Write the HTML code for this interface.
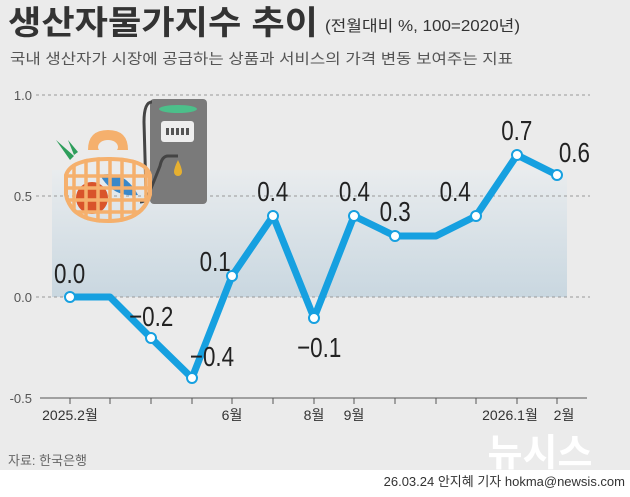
<!DOCTYPE html><html><head><meta charset="utf-8"><style>body{margin:0}svg text{font-family:"Liberation Sans","Noto Sans CJK KR",sans-serif}</style></head><body>
<svg width="630" height="492" viewBox="0 0 630 492" xmlns="http://www.w3.org/2000/svg">
<defs><linearGradient id="g" x1="0" y1="0" x2="0" y2="1"><stop offset="0" stop-color="#e9ecee"/><stop offset="1" stop-color="#c9d7e0"/></linearGradient>
<clipPath id="bc"><path d="M64 175 q5-18 44-18 q40 0 44 18 l0 20 q-8 28 -44 28 q-38 0 -44 -28z"/></clipPath></defs>
<rect width="630" height="492" fill="#ebebeb"/>
<rect x="0" y="470" width="630" height="22" fill="#fff"/>
<text x="8" y="34" font-size="33" font-weight="bold" fill="#333" textLength="310" lengthAdjust="spacingAndGlyphs">생산자물가지수 추이</text>
<text x="325" y="31" font-size="15.5" fill="#333" textLength="195" lengthAdjust="spacingAndGlyphs">(전월대비 %, 100=2020년)</text>
<text x="10" y="64" font-size="14.5" fill="#555" textLength="503" lengthAdjust="spacingAndGlyphs">국내 생산자가 시장에 공급하는 상품과 서비스의 가격 변동 보여주는 지표</text>
<rect x="52" y="170" width="515" height="127" fill="url(#g)"/>
<g stroke="#999" stroke-dasharray="3,3" stroke-width="1">
<line x1="36" y1="95" x2="590" y2="95"/><line x1="36" y1="196" x2="590" y2="196"/><line x1="36" y1="297" x2="590" y2="297"/></g>
<g font-size="13" fill="#555" text-anchor="end"><text x="32" y="100">1.0</text><text x="32" y="201">0.5</text><text x="32" y="302">0.0</text><text x="32" y="403">-0.5</text></g>
<line x1="40" y1="398" x2="587" y2="398" stroke="#555"/>
<g stroke="#555"><line x1="70" y1="398" x2="70" y2="404"/><line x1="110" y1="398" x2="110" y2="404"/><line x1="151" y1="398" x2="151" y2="404"/><line x1="192" y1="398" x2="192" y2="404"/><line x1="232" y1="398" x2="232" y2="404"/><line x1="273" y1="398" x2="273" y2="404"/><line x1="314" y1="398" x2="314" y2="404"/><line x1="354" y1="398" x2="354" y2="404"/><line x1="395" y1="398" x2="395" y2="404"/><line x1="436" y1="398" x2="436" y2="404"/><line x1="476" y1="398" x2="476" y2="404"/><line x1="517" y1="398" x2="517" y2="404"/><line x1="557" y1="398" x2="557" y2="404"/></g>
<g font-size="14" fill="#333" text-anchor="middle"><text x="70" y="420">2025.2월</text><text x="232" y="420">6월</text><text x="314" y="420">8월</text><text x="354" y="420">9월</text><text x="510" y="420">2026.1월</text><text x="564" y="420">2월</text></g>
<!-- pump -->
<rect x="150" y="99" width="57" height="105" rx="4" fill="#7a7a7a"/>
<ellipse cx="178" cy="109" rx="19" ry="4" fill="#4cbf8a"/>
<rect x="161" y="121" width="33" height="21" rx="3" fill="#eee"/>
<g fill="#555"><rect x="166" y="128" width="3" height="7"/><rect x="171" y="128" width="3" height="7"/><rect x="176" y="128" width="3" height="7"/><rect x="181" y="128" width="3" height="7"/><rect x="186" y="128" width="3" height="7"/></g>
<path d="M178 160 q4 8 4 12 a4 4 0 0 1 -8 0 q0-4 4-12z" fill="#e6b030"/>
<path d="M152 102 q-8 0 -8 20 l2 70 q2 10 -6 10 M178 156 h-10 q-6 0 -8 10 l-12 30" fill="none" stroke="#444" stroke-width="3"/>
<!-- basket -->
<path d="M56 140 l14 20 l4 -4z" fill="#2e9e5b"/><path d="M68 140 l6 15 l4-3z" fill="#2e9e5b"/>
<path d="M88 150 q0-20 20-20 q20 0 20 20 z" fill="#f5b06d"/>
<ellipse cx="108" cy="147" rx="10" ry="7" fill="#ebebeb"/>
<circle cx="92" cy="198" r="16" fill="#d9542b"/>
<path d="M100 175 q25 -5 38 20 q-25 3-38-20z" fill="#3a88c8"/>
<g clip-path="url(#bc)" stroke="#f5b06d" stroke-width="3.5">
<path d="M64 175 q5-18 44-18 q40 0 44 18 l0 20 q-8 28 -44 28 q-38 0 -44 -28z" fill="none" stroke-width="8"/>
<line x1="74" y1="150" x2="74" y2="230"/><line x1="86" y1="150" x2="86" y2="230"/><line x1="98" y1="150" x2="98" y2="230"/><line x1="110" y1="150" x2="110" y2="230"/><line x1="122" y1="150" x2="122" y2="230"/><line x1="134" y1="150" x2="134" y2="230"/><line x1="146" y1="150" x2="146" y2="230"/>
<line x1="60" y1="176" x2="160" y2="176"/><line x1="60" y1="188" x2="160" y2="188"/><line x1="60" y1="200" x2="160" y2="200"/><line x1="60" y1="212" x2="160" y2="212"/></g>
<polyline points="70,297 110,297 151,338 192,378 232,276 273,216 314,318 354,216 395,236 436,236 476,216 517,155 557,175" fill="none" stroke="#16a0e0" stroke-width="7" stroke-linejoin="round"/>
<g fill="#fff" stroke="#16a0e0" stroke-width="2"><circle cx="70" cy="297" r="5"/><circle cx="151" cy="338" r="5"/><circle cx="192" cy="378" r="5"/><circle cx="232" cy="276" r="5"/><circle cx="273" cy="216" r="5"/><circle cx="314" cy="318" r="5"/><circle cx="354" cy="216" r="5"/><circle cx="395" cy="236" r="5"/><circle cx="476" cy="216" r="5"/><circle cx="517" cy="155" r="5"/><circle cx="557" cy="175" r="5"/></g>
<g font-size="28" fill="#222" text-anchor="middle" transform="scale(0.8,1)"><text x="87" y="283">0.0</text><text x="189" y="326">−0.2</text><text x="265" y="366">−0.4</text><text x="269" y="271">0.1</text><text x="341" y="201">0.4</text><text x="399" y="357">−0.1</text><text x="443" y="201">0.4</text><text x="494" y="221">0.3</text><text x="569" y="201">0.4</text><text x="646" y="140">0.7</text><text x="718" y="162">0.6</text></g>
<text x="8" y="465" font-size="13" fill="#666">자료: 한국은행</text>
<text x="540" y="466" font-size="38" font-weight="bold" fill="#fff" text-anchor="middle">뉴시스</text>
<text x="625" y="486" font-size="13" fill="#333" text-anchor="end">26.03.24 안지혜 기자 hokma@newsis.com</text>
</svg></body></html>
